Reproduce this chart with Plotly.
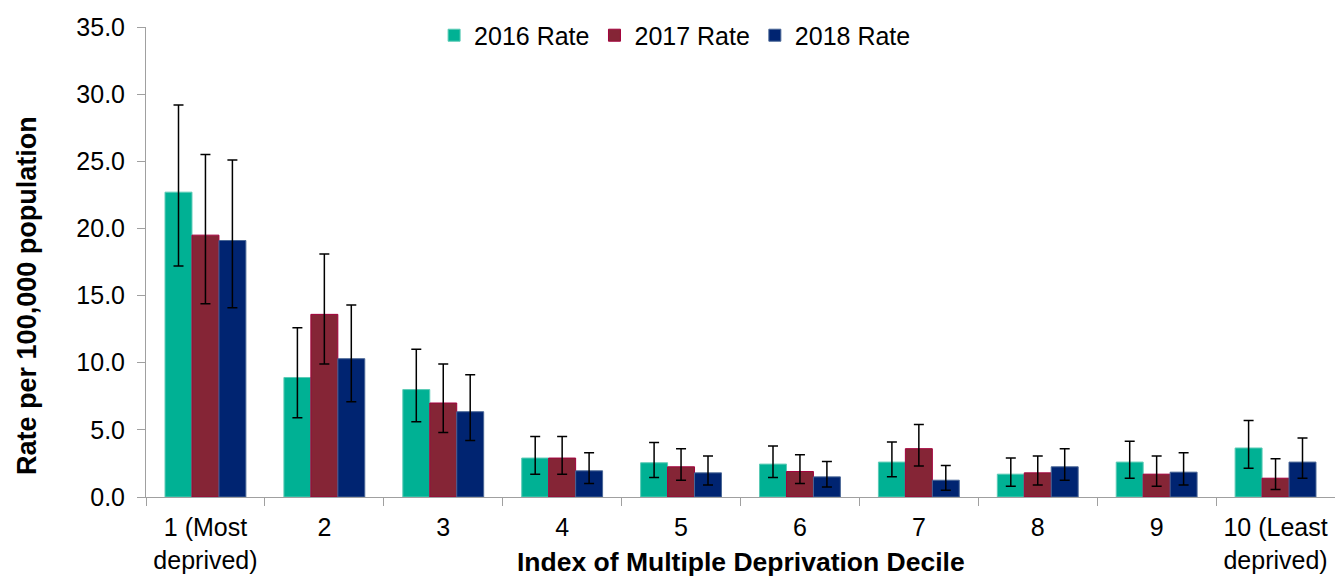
import plotly.graph_objects as go

# Deprivation deciles (x categories)
deciles = ["1 (Most<br>deprived)", "2", "3", "4", "5", "6", "7", "8", "9", "10 (Least<br>deprived)"]

# Rates per 100,000 population
rate_2016 = [22.7, 8.9, 8.0, 2.9, 2.55, 2.45, 2.6, 1.7, 2.6, 3.65]
rate_2017 = [19.5, 13.6, 7.0, 2.9, 2.25, 1.9, 3.6, 1.8, 1.7, 1.4]
rate_2018 = [19.1, 10.3, 6.35, 1.95, 1.8, 1.5, 1.25, 2.25, 1.85, 2.6]

# 95% confidence interval limits
upper_2016 = [29.2, 12.6, 11.0, 4.5, 4.05, 3.8, 4.1, 2.9, 4.15, 5.7]
lower_2016 = [17.2, 5.9, 5.6, 1.7, 1.45, 1.45, 1.5, 0.8, 1.4, 2.15]
upper_2017 = [25.5, 18.1, 9.9, 4.5, 3.6, 3.15, 5.4, 3.05, 3.05, 2.85]
lower_2017 = [14.4, 9.9, 4.8, 1.7, 1.25, 1.0, 2.3, 0.9, 0.8, 0.55]
upper_2018 = [25.1, 14.3, 9.1, 3.3, 3.05, 2.65, 2.35, 3.6, 3.3, 4.4]
lower_2018 = [14.1, 7.1, 4.2, 1.0, 0.9, 0.75, 0.5, 1.25, 0.9, 1.4]

series = [
    ("2016 Rate", rate_2016, upper_2016, lower_2016, "#00B194", "#5CCBB6"),
    ("2017 Rate", rate_2017, upper_2017, lower_2017, "#852536", "#A3003C"),
    ("2018 Rate", rate_2018, upper_2018, lower_2018, "#002471", "#4A6796"),
]

fig = go.Figure()
for name, vals, up, lo, fill, edge in series:
    fig.add_trace(go.Bar(
        name=name,
        x=deciles,
        y=vals,
        marker=dict(color=fill, line=dict(color=edge, width=1)),
        error_y=dict(
            type="data",
            symmetric=False,
            array=[u - v for u, v in zip(up, vals)],
            arrayminus=[v - l for v, l in zip(vals, lo)],
            color="black",
            thickness=1.5,
            width=5,
        ),
    ))

axis_grey = "#A0A0A0"
font_family = "Arial, Liberation Sans, sans-serif"

fig.update_layout(
    width=1335,
    height=576,
    margin=dict(l=146, r=0, t=27, b=79),
    plot_bgcolor="white",
    paper_bgcolor="white",
    barmode="group",
    bargap=0.32,
    bargroupgap=0,
    font=dict(family=font_family, size=25, color="black"),
    showlegend=True,
    legend=dict(
        orientation="h",
        x=0.445, xanchor="center",
        y=0.982, yanchor="middle",
        font=dict(size=25),
        bgcolor="rgba(0,0,0,0)",
        itemwidth=30,
        traceorder="normal",
    ),
    xaxis=dict(
        type="category",
        showline=True,
        linecolor=axis_grey,
        linewidth=1,
        ticks="outside",
        tickson="boundaries",
        ticklen=8,
        tickcolor=axis_grey,
        showgrid=False,
        tickfont=dict(size=25),
        ticklabelstandoff=8,
    ),
    yaxis=dict(
        range=[0, 35],
        dtick=5,
        tickformat=".1f",
        showline=True,
        linecolor=axis_grey,
        linewidth=1,
        ticks="outside",
        ticklen=8,
        tickcolor=axis_grey,
        showgrid=False,
        zeroline=False,
        tickfont=dict(size=25),
        ticklabelstandoff=7,
    ),
    annotations=[
        dict(
            text="<b>Index of Multiple Deprivation Decile</b>",
            xref="paper", yref="paper",
            x=0.5, y=-0.138,
            xanchor="center", yanchor="middle",
            showarrow=False,
            font=dict(size=26.5),
        ),
        dict(
            text="<b>Rate per 100,000 population</b>",
            xref="paper", yref="paper",
            x=-0.1, y=0.428,
            xanchor="center", yanchor="middle",
            textangle=-90,
            showarrow=False,
            font=dict(size=27),
        ),
    ],
)

fig.write_html("out.html")
